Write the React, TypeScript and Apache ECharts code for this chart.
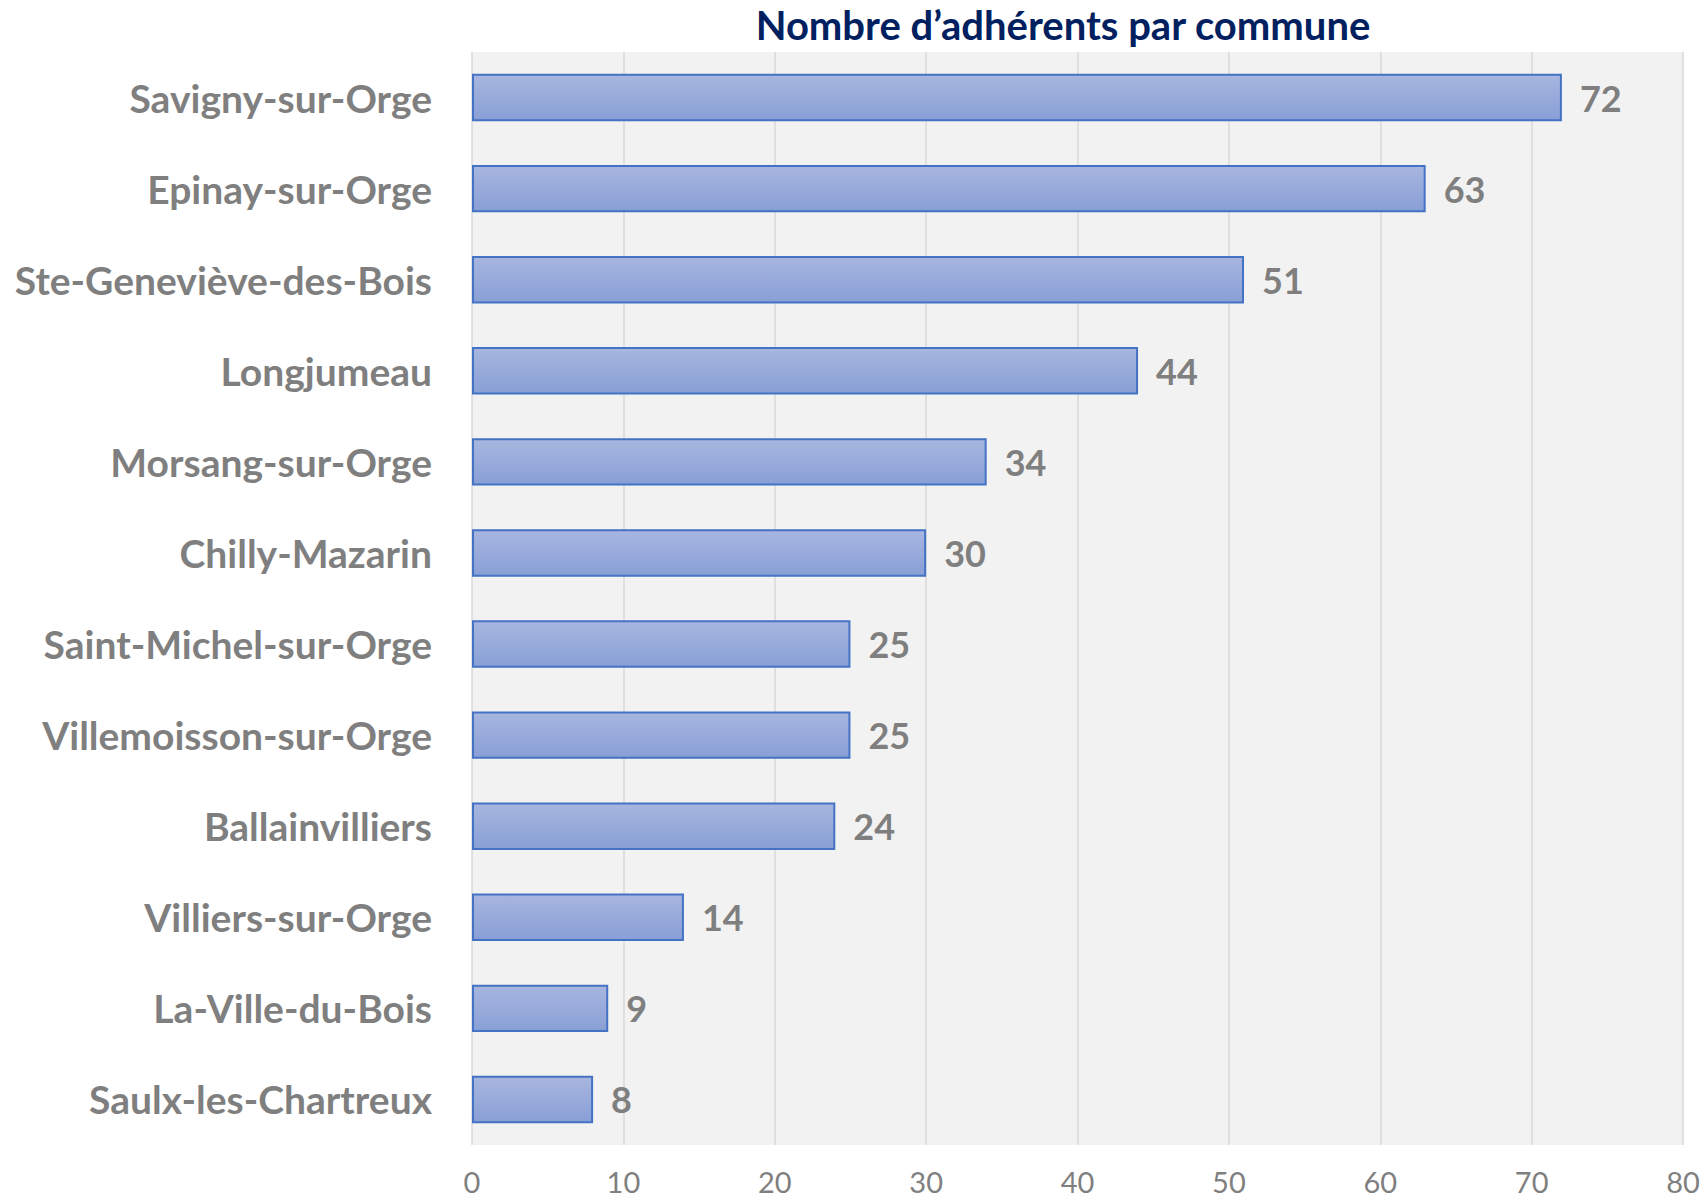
import React, { useEffect, useRef } from "react";
import * as echarts from "echarts";

const communes = [
  "Savigny-sur-Orge",
  "Epinay-sur-Orge",
  "Ste-Geneviève-des-Bois",
  "Longjumeau",
  "Morsang-sur-Orge",
  "Chilly-Mazarin",
  "Saint-Michel-sur-Orge",
  "Villemoisson-sur-Orge",
  "Ballainvilliers",
  "Villiers-sur-Orge",
  "La-Ville-du-Bois",
  "Saulx-les-Chartreux",
];
const adherents = [72, 63, 51, 44, 34, 30, 25, 25, 24, 14, 9, 8];
const xMin = 0;
const xMax = 80;
const xStep = 10;
const titleText = "Nombre d’adhérents par commune";

const FONT = "Lato, 'Open Sans', sans-serif";

export default function App() {
  const ref = useRef<HTMLDivElement>(null);
  useEffect(() => {
    document.body.style.margin = "0";
    if (!ref.current) return;
    const chart = echarts.init(ref.current, undefined, { renderer: "svg" });
    chart.setOption({
      animation: false,
      backgroundColor: "#ffffff",
      title: {
        text: titleText,
        left: 1058,
        top: 0,
        textAlign: "center",
        textStyle: {
          fontFamily: FONT,
          fontWeight: "bold",
          fontSize: 40,
          color: "#002060",
        },
      },
      grid: {
        left: 472,
        right: 23,
        top: 52,
        bottom: 54,
        show: true,
        backgroundColor: "#f2f2f2",
        borderWidth: 0,
      },
      xAxis: {
        type: "value",
        min: xMin,
        max: xMax,
        interval: xStep,
        axisLine: { show: false },
        axisTick: { show: false },
        splitLine: { show: true, lineStyle: { color: "#d9d9d9", width: 1.5 } },
        axisLabel: {
          color: "#7f7f7f",
          fontFamily: FONT,
          fontSize: 29,
          lineHeight: 29,
          margin: 22,
        },
      },
      yAxis: {
        type: "category",
        data: communes,
        inverse: true,
        axisLine: { show: false },
        axisTick: { show: false },
        axisLabel: {
          color: "#7f7f7f",
          fontFamily: FONT,
          fontWeight: "bold",
          fontSize: 39,
          margin: 40,
        },
      },
      series: [
        {
          type: "bar",
          data: adherents,
          barCategoryGap: "48%",
          itemStyle: {
            color: new echarts.graphic.LinearGradient(0, 0, 0, 1, [
              { offset: 0, color: "#a8b6df" },
              { offset: 1, color: "#889fd6" },
            ]),
            borderColor: "#4472c4",
            borderWidth: 2,
          },
          label: {
            show: true,
            position: "right",
            distance: 18,
            color: "#7f7f7f",
            fontFamily: FONT,
            fontWeight: "bold",
            fontSize: 36,
          },
        },
      ],
    });
    return () => chart.dispose();
  }, []);
  return (
    <div
      ref={ref}
      style={{ position: "fixed", left: 0, top: 0, width: 1706, height: 1199 }}
    />
  );
}
